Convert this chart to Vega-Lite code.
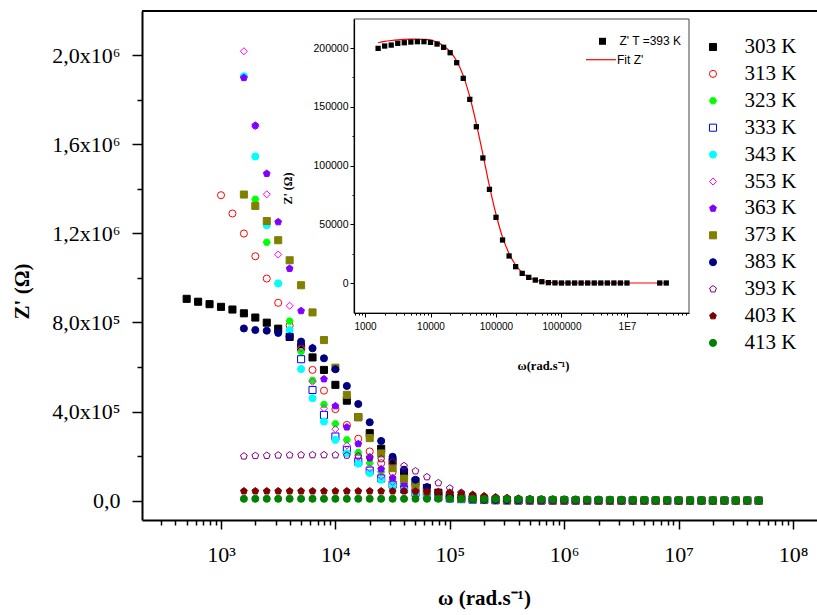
{
  "$schema": "https://vega.github.io/schema/vega-lite/v6.json",
  "width": 675,
  "height": 509,
  "autosize": {"type": "none"},
  "padding": {"left": 142, "top": 11, "right": 0, "bottom": 95},
  "background": "white",
  "config": {
    "view": {"stroke": null},
    "axis": {"grid": false, "domainColor": "black", "tickColor": "black", "labelColor": "black", "titleColor": "black", "labelFlush": false, "labelOverlap": false, "labelBound": false}
  },
  "datasets": {
    "main": [
      {"T": "303 K", "w": [501,631,794,1000,1259,1585,1995,2512,3162,3981,5012,6310,7943,10000,12589,15849,19953,25119,31623,39811,50119,63096,79433,100000,125893,158489,199526,251189,316228,398107,501187,630957,794328,1000000,1258925,1584893,1995262,2511886,3162278,3981072,5011872,6309573,7943282,10000000,12589254,15848932,19952623,25118864,31622777,39810717,50118723],
       "z": [906000,893000,882000,870000,858000,841000,822000,799000,772000,735000,690000,643000,587000,520000,449000,375000,303000,233000,176000,126000,87000,57000,36000,22000,13000,8000,5000,3000,2000,1500,1200,1000,900,800,700,600,600,500,500,500,400,400,400,300,300,300,300,300,300,300,300]},
      {"T": "313 K", "w": [1000,1259,1585,1995,2512,3162,3981,5012,6310,7943,10000,12589,15849,19953,25119,31623,39811,50119,63096,79433,100000,125893,158489,199526,251189,316228,398107,501187,630957,794328,1000000,1258925,1584893,1995262,2511886,3162278,3981072,5011872,6309573,7943282,10000000,12589254,15848932,19952623,25118864,31622777,39810717,50118723],
       "z": [1371000,1289000,1199000,1097000,997000,888000,786000,685000,587000,494000,411000,340000,278000,221000,168000,128000,96000,68000,45000,29000,18000,11000,6500,4200,2800,2000,1500,1200,1000,900,800,700,600,600,500,500,500,400,400,400,300,300,300,300,300,300,300,300]},
      {"T": "323 K", "w": [1995,2512,3162,3981,5012,6310,7943,10000,12589,15849,19953,25119,31623,39811,50119,63096,79433,100000,125893,158489,199526,251189,316228,398107,501187,630957,794328,1000000,1258925,1584893,1995262,2511886,3162278,3981072,5011872,6309573,7943282,10000000,12589254,15848932,19952623,25118864,31622777,39810717,50118723],
       "z": [1353000,1160000,975000,806000,669000,540000,432000,345000,273000,216000,169000,130000,97000,70000,50000,34000,22000,14000,9000,6000,4000,2500,1800,1400,1200,1000,900,800,700,600,600,500,500,500,400,400,400,300,300,300,300,300,300,300,300]},
      {"T": "333 K", "w": [5012,6310,7943,10000,12589,15849,19953,25119,31623,39811,50119,63096,79433,100000,125893,158489,199526,251189,316228,398107,501187,630957,794328,1000000,1258925,1584893,1995262,2511886,3162278,3981072,5011872,6309573,7943282,10000000,12589254,15848932,19952623,25118864,31622777,39810717,50118723],
       "z": [635000,497000,385000,288000,228000,175000,135000,100000,72000,51000,35000,23000,15000,10000,7000,4500,3000,2000,1500,1200,1200,1000,900,800,700,600,600,500,500,500,400,400,400,300,300,300,300,300,300,300,300]},
      {"T": "343 K", "w": [1585,1995,2512,3162,3981,5012,6310,7943,10000,12589,15849,19953,25119,31623,39811,50119,63096,79433,100000,125893,158489,199526,251189,316228,398107,501187,630957,794328,1000000,1258925,1584893,1995262,2511886,3162278,3981072,5011872,6309573,7943282,10000000,12589254,15848932,19952623,25118864,31622777,39810717,50118723],
       "z": [1905000,1545000,1236000,975000,766000,591000,460000,355000,273000,213000,166000,124000,94000,68000,49000,35000,24000,16000,10000,6500,4500,3000,2000,1500,1200,1200,1000,900,800,700,600,600,500,500,500,400,400,400,300,300,300,300,300,300,300,300]},
      {"T": "353 K", "w": [1585,1995,2512,3162,3981,5012,6310,7943,10000,12589,15849,19953,25119,31623,39811,50119,63096,79433,100000,125893,158489,199526,251189,316228,398107,501187,630957,794328,1000000,1258925,1584893,1995262,2511886,3162278,3981072,5011872,6309573,7943282,10000000,12589254,15848932,19952623,25118864,31622777,39810717,50118723],
       "z": [2017000,1680000,1375000,1105000,875000,684000,534000,415000,321000,248000,196000,146000,110000,84000,60000,42000,28000,18000,11000,7500,5000,3500,2500,1800,1400,1200,1000,900,800,700,600,600,500,500,500,400,400,400,300,300,300,300,300,300,300,300]},
      {"T": "363 K", "w": [1585,1995,2512,3162,3981,5012,6310,7943,10000,12589,15849,19953,25119,31623,39811,50119,63096,79433,100000,125893,158489,199526,251189,316228,398107,501187,630957,794328,1000000,1258925,1584893,1995262,2511886,3162278,3981072,5011872,6309573,7943282,10000000,12589254,15848932,19952623,25118864,31622777,39810717,50118723],
       "z": [1898000,1684000,1468000,1251000,1042000,852000,686000,546000,425000,330000,255000,191000,142000,102000,75000,53000,36000,24000,15000,9500,6000,4000,2800,2000,1500,1200,1000,900,800,700,600,600,500,500,500,400,400,400,300,300,300,300,300,300,300,300]},
      {"T": "373 K", "w": [1585,1995,2512,3162,3981,5012,6310,7943,10000,12589,15849,19953,25119,31623,39811,50119,63096,79433,100000,125893,158489,199526,251189,316228,398107,501187,630957,794328,1000000,1258925,1584893,1995262,2511886,3162278,3981072,5011872,6309573,7943282,10000000,12589254,15848932,19952623,25118864,31622777,39810717,50118723],
       "z": [1374000,1323000,1255000,1169000,1079000,967000,845000,721000,597000,475000,375000,281000,212000,146000,99000,67000,44000,28000,18000,11000,7000,4500,3000,2000,1500,1200,1000,900,800,700,600,600,500,500,500,400,400,400,300,300,300,300,300,300,300,300]},
      {"T": "383 K", "w": [1585,1995,2512,3162,3981,5012,6310,7943,10000,12589,15849,19953,25119,31623,39811,50119,63096,79433,100000,125893,158489,199526,251189,316228,398107,501187,630957,794328,1000000,1258925,1584893,1995262,2511886,3162278,3981072,5011872,6309573,7943282,10000000,12589254,15848932,19952623,25118864,31622777,39810717,50118723],
       "z": [773000,766000,763000,753000,737000,714000,684000,639000,590000,515000,434000,352000,268000,197000,139000,94000,61000,36000,20000,11000,6500,4000,2800,2000,1500,1200,1000,900,800,700,600,600,500,500,500,400,400,400,300,300,300,300,300,300,300,300]},
      {"T": "393 K", "w": [1585,1995,2512,3162,3981,5012,6310,7943,10000,12589,15849,19953,25119,31623,39811,50119,63096,79433,100000,125893,158489,199526,251189,316228,398107,501187,630957,794328,1000000,1258925,1584893,1995262,2511886,3162278,3981072,5011872,6309573,7943282,10000000,31622777,39810717],
       "z": [199700,201700,202500,204000,204500,205100,205400,205400,204800,203400,200600,196000,187500,174200,156300,133000,106400,79700,55900,36600,23000,13900,8200,4800,2500,1100,300,100,0,0,0,0,0,0,0,0,0,0,0,0,0]},
      {"T": "403 K", "w": [1585,1995,2512,3162,3981,5012,6310,7943,10000,12589,15849,19953,25119,31623,39811,50119,63096,79433,100000,125893,158489,199526,251189,316228,398107,501187,630957,794328,1000000,1258925,1584893,1995262,2511886,3162278,3981072,5011872,6309573,7943282,10000000,12589254,15848932,19952623,25118864,31622777,39810717,50118723],
       "z": [43000,43000,43000,43000,43000,43000,43000,43000,43000,43000,43000,43000,43000,43000,43000,42000,41000,39500,37000,33000,27000,21000,16000,13000,10500,8500,7000,5500,4500,4000,3600,3300,3000,2800,2600,2400,2200,2000,1900,1800,1700,1600,1500,1400,1300,1200]},
      {"T": "413 K", "w": [1585,1995,2512,3162,3981,5012,6310,7943,10000,12589,15849,19953,25119,31623,39811,50119,63096,79433,100000,125893,158489,199526,251189,316228,398107,501187,630957,794328,1000000,1258925,1584893,1995262,2511886,3162278,3981072,5011872,6309573,7943282,10000000,12589254,15848932,19952623,25118864,31622777,39810717,50118723],
       "z": [8500,8500,8500,8500,8500,8500,8500,8500,8500,8500,8500,8500,8500,8500,8500,8500,8500,8500,8500,8300,8100,7900,7700,7500,7200,6900,6600,6300,6000,5700,5400,5100,4800,4500,4200,3900,3600,3300,3000,2700,2500,2300,2100,1900,1700,1500]}
    ],
    "fit": [
      {"w": [1585,1995,2512,3162,3981,5012,6310,7943,10000,12589,15849,19953,25119,31623,39811,50119,63096,79433,100000,125893,158489,199526,251189,316228,398107,501187,630957,1000000,3162278,10000000,39810717],
       "z": [204500,205600,206400,207000,207400,207600,207600,207400,206800,205000,201800,197000,189000,176500,158500,135500,109500,82500,58500,39000,25000,15300,8800,4800,2600,1300,600,100,0,0,0]}
    ]
  },
  "layer": [
    {
      "layer": [
        {
          "data": {"name": "main"},
          "transform": [{"flatten": ["w", "z"]}],
          "mark": {"type": "point", "size": 50, "strokeWidth": 1, "opacity": 1},
          "encoding": {
            "x": {
              "field": "w", "type": "quantitative",
              "scale": {"type": "log", "domain": [203.9, 162100000], "nice": false},
              "axis": {
                "orient": "bottom",
                "values": [300,400,500,600,700,800,900,1000,2000,3000,4000,5000,6000,7000,8000,9000,10000,20000,30000,40000,50000,60000,70000,80000,90000,100000,200000,300000,400000,500000,600000,700000,800000,900000,1000000,2000000,3000000,4000000,5000000,6000000,7000000,8000000,9000000,10000000,20000000,30000000,40000000,50000000,60000000,70000000,80000000,90000000,100000000],
                "labelExpr": "datum.value == 1000 ? '10³' : datum.value == 10000 ? '10⁴' : datum.value == 100000 ? '10⁵' : datum.value == 1000000 ? '10⁶' : datum.value == 10000000 ? '10⁷' : datum.value == 100000000 ? '10⁸' : ''",
                "tickSize": {"condition": {"test": "indexof([1000,10000,100000,1000000,10000000,100000000], datum.value) >= 0", "value": 9}, "value": 5},
                "tickWidth": 1.5,
                "domainWidth": 2,
                "labelFont": "Liberation Serif",
                "labelFontSize": 22,
                "labelPadding": 15,
                "title": "ω (rad.s⁻¹)",
                "titleFont": "Liberation Serif",
                "titleFontWeight": "bold",
                "titleFontSize": 21,
                "titleX": 342,
                "titleY": 78,
                "titleBaseline": "middle",
                "titleAlign": "center"
              }
            },
            "y": {
              "field": "z", "type": "quantitative",
              "scale": {"domain": [-86600, 2197700], "nice": false, "zero": false},
              "axis": {
                "orient": "left",
                "values": [0,200000,400000,600000,800000,1000000,1200000,1400000,1600000,1800000,2000000],
                "labelExpr": "datum.value == 0 ? '0,0' : datum.value == 400000 ? '4,0x10⁵' : datum.value == 800000 ? '8,0x10⁵' : datum.value == 1200000 ? '1,2x10⁶' : datum.value == 1600000 ? '1,6x10⁶' : datum.value == 2000000 ? '2,0x10⁶' : ''",
                "tickSize": {"condition": {"test": "datum.value % 400000 == 0", "value": 10}, "value": 5},
                "tickWidth": 1.5,
                "domainWidth": 2,
                "labelFont": "Liberation Serif",
                "labelFontSize": 22,
                "labelPadding": 12,
                "title": "Z' (Ω)",
                "titleFont": "Liberation Serif",
                "titleFontWeight": "bold",
                "titleFontSize": 21,
                "titleAngle": 270,
                "titleX": -120,
                "titleY": 280,
                "titleBaseline": "middle",
                "titleAlign": "center"
              }
            },
            "shape": {
              "field": "T", "type": "nominal",
              "scale": {"domain": ["303 K","313 K","323 K","333 K","343 K","353 K","363 K","373 K","383 K","393 K","403 K","413 K"],
                        "range": ["square","circle","M-1,0L-0.5,-0.866L0.5,-0.866L1,0L0.5,0.866L-0.5,0.866Z","square","circle","diamond","M0,-1L0.951,-0.309L0.588,0.809L-0.588,0.809L-0.951,-0.309Z","square","circle","M0,-1L0.951,-0.309L0.588,0.809L-0.588,0.809L-0.951,-0.309Z","M0,-1L0.951,-0.309L0.588,0.809L-0.588,0.809L-0.951,-0.309Z","circle"]},
              "legend": {"title": null, "orient": "none", "legendX": 560.5, "legendY": 25.5, "padding": 0, "labelFont": "Liberation Serif", "labelFontSize": 21, "labelColor": "black", "symbolSize": 50, "symbolStrokeWidth": 1, "labelOffset": 21, "rowPadding": 4.9, "labelLimit": 200}
            },
            "fill": {
              "field": "T", "type": "nominal",
              "scale": {"domain": ["303 K","313 K","323 K","333 K","343 K","353 K","363 K","373 K","383 K","393 K","403 K","413 K"],
                        "range": ["#000000","transparent","#00FF00","transparent","#00FFFF","transparent","#8000FF","#808000","#000080","transparent","#800000","#008000"]},
              "legend": {"title": null, "orient": "none", "legendX": 560.5, "legendY": 25.5, "padding": 0, "labelFont": "Liberation Serif", "labelFontSize": 21, "labelColor": "black", "symbolSize": 50, "symbolStrokeWidth": 1, "labelOffset": 21, "rowPadding": 4.9, "labelLimit": 200}
            },
            "stroke": {
              "field": "T", "type": "nominal",
              "scale": {"domain": ["303 K","313 K","323 K","333 K","343 K","353 K","363 K","373 K","383 K","393 K","403 K","413 K"],
                        "range": ["#000000","#FF0000","#00FF00","#0000FF","#00FFFF","#FF00FF","#8000FF","#808000","#000080","#800080","#800000","#008000"]},
              "legend": {"title": null, "orient": "none", "legendX": 560.5, "legendY": 25.5, "padding": 0, "labelFont": "Liberation Serif", "labelFontSize": 21, "labelColor": "black", "symbolSize": 50, "symbolStrokeWidth": 1, "labelOffset": 21, "rowPadding": 4.9, "labelLimit": 200}
            }
          }
        },
        {
          "data": {"values": [{}]},
          "mark": {"type": "rule", "color": "black", "strokeWidth": 2},
          "encoding": {"y": {"datum": 2197700, "type": "quantitative"}}
        }
      ]
    },
    {
      "layer": [
        {
          "data": {"values": [{}]},
          "mark": {"type": "rect", "fill": "white", "stroke": "#444444", "strokeWidth": 1},
          "encoding": {
            "x": {"datum": 679, "type": "quantitative",
                  "scale": {"type": "log", "domain": [679, 88500000], "range": [212, 547], "nice": false},
                  "axis": {
                    "orient": "bottom", "offset": -207, "zindex": 2,
                    "values": [700,800,900,1000,2000,3000,4000,5000,6000,7000,8000,9000,10000,20000,30000,40000,50000,60000,70000,80000,90000,100000,200000,300000,400000,500000,600000,700000,800000,900000,1000000,2000000,3000000,4000000,5000000,6000000,7000000,8000000,9000000,10000000,20000000,30000000,40000000,50000000,60000000,70000000,80000000],
                    "labelExpr": "datum.value == 10000000 ? '1E7' : indexof([1000,10000,100000,1000000], datum.value) >= 0 ? format(datum.value, 'd') : ''",
                    "tickSize": {"condition": {"test": "indexof([1000,10000,100000,1000000,10000000], datum.value) >= 0", "value": 4}, "value": 2},
                    "tickWidth": 1, "domainWidth": 1.2,
                    "labelFont": "Liberation Sans", "labelFontSize": 10, "labelPadding": 4,
                    "title": "ω(rad.s⁻¹)", "titleFont": "Liberation Serif", "titleFontWeight": "bold", "titleFontSize": 12.5,
                    "titleX": 401, "titleY": 52, "titleBaseline": "middle", "titleAlign": "center"
                  }},
            "x2": {"datum": 88500000},
            "y": {"datum": -25530, "type": "quantitative",
                  "scale": {"domain": [-25530, 224700], "range": [302, 8], "nice": false, "zero": false},
                  "axis": {
                    "orient": "left", "offset": -212, "zindex": 2,
                    "values": [0,25000,50000,75000,100000,125000,150000,175000,200000],
                    "labelExpr": "datum.value % 50000 == 0 ? format(datum.value, 'd') : ''",
                    "tickSize": {"condition": {"test": "datum.value % 50000 == 0", "value": 4}, "value": 2},
                    "tickWidth": 1, "domainWidth": 1.2,
                    "labelFont": "Liberation Sans", "labelFontSize": 10.5, "labelPadding": 2,
                    "title": "Z' (Ω)", "titleFont": "Liberation Serif", "titleFontWeight": "bold", "titleFontSize": 12,
                    "titleAngle": 270, "titleX": -67, "titleY": 177, "titleBaseline": "middle", "titleAlign": "center"
                  }},
            "y2": {"datum": 224700}
          }
        },
        {
          "data": {"name": "fit"},
          "transform": [{"flatten": ["w", "z"]}],
          "mark": {"type": "line", "strokeWidth": 1.2, "interpolate": "monotone"},
          "encoding": {
            "x": {"field": "w", "type": "quantitative"},
            "y": {"field": "z", "type": "quantitative"},
            "stroke": {"datum": "Fit Z'", "scale": {"range": ["#FF0000"]},
                       "legend": {"title": null, "orient": "none", "legendX": 443, "legendY": 32.7, "padding": 0, "symbolType": "stroke", "symbolSize": 900, "symbolStrokeWidth": 1.2, "labelFont": "Liberation Sans", "labelFontSize": 12, "labelColor": "black", "labelOffset": 0}}
          }
        },
        {
          "data": {"name": "main"},
          "transform": [{"filter": "datum.T == '393 K'"}, {"flatten": ["w", "z"]}],
          "mark": {"type": "point", "filled": true, "color": "black", "size": 28, "opacity": 1},
          "encoding": {
            "x": {"field": "w", "type": "quantitative"},
            "y": {"field": "z", "type": "quantitative"},
            "shape": {"datum": "Z' T =393 K", "scale": {"range": ["square"]},
                      "legend": {"title": null, "orient": "none", "legendX": 454.5, "legendY": 24.3, "padding": 0, "symbolSize": 49, "symbolFillColor": "black", "symbolStrokeColor": "black", "labelFont": "Liberation Sans", "labelFontSize": 12, "labelColor": "black", "labelOffset": 11}}
          }
        }
      ]
    }
  ],
  "resolve": {"scale": {"x": "independent", "y": "independent", "shape": "independent", "stroke": "independent", "fill": "independent"}}
}
